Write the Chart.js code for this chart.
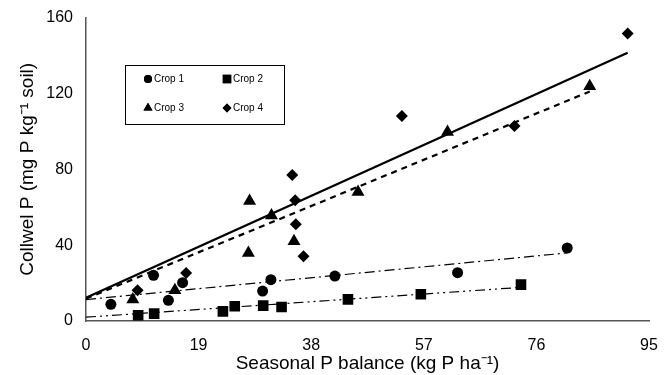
<!DOCTYPE html>
<html>
<head>
<meta charset="utf-8">
<script src="https://cdn.jsdelivr.net/npm/chart.js@4"></script>
<style>
  html, body { margin: 0; padding: 0; background: #fff; }
  #wrap { width: 671px; height: 375px; }
</style>
</head>
<body>
<div id="wrap"><canvas id="pChart" width="671" height="375"></canvas></div>
<script>
// values
const crop1X = [4.2, 11.4, 13.9, 16.3, 29.8, 31.2, 42.0, 62.7, 81.2];
const crop1Y = [8.8, 24.1, 10.9, 20.2, 15.8, 21.8, 23.7, 25.5, 38.5];
const crop2X = [8.8, 11.5, 23.1, 25.1, 29.9, 33.0, 44.2, 56.5, 73.4];
const crop2Y = [3.0, 3.9, 5.1, 7.8, 8.1, 7.4, 11.4, 14.1, 19.2];
const crop3X = [7.9, 15.0, 27.6, 27.4, 31.3, 35.1, 45.9, 61.0, 85.0];
const crop3Y = [11.3, 16.2, 63.3, 35.9, 55.6, 42.0, 68.0, 99.7, 123.8];
const crop4X = [8.7, 16.9, 35.3, 35.4, 36.7, 34.8, 53.3, 72.3, 91.4];
const crop4Y = [16.2, 25.3, 63.7, 51.0, 34.1, 77.0, 108.1, 102.8, 151.6];

// fitted lines, end points
const allFitX = [0, 91.4];
const allFitY = [12.3, 141.5];
const crop3FitX = [0, 85.0];
const crop3FitY = [11.8, 121.0];
const crop1FitX = [0, 81.2];
const crop1FitY = [11.3, 35.9];
const crop2FitX = [0, 72.7];
const crop2FitY = [2.0, 17.6];

const xTicks = [0, 19, 38, 57, 76, 95];
const yTicks = [0, 40, 80, 120, 160];

const legendNames = ["Crop 1", "Crop 2", "Crop 3", "Crop 4"];
const legendStyles = ["circle", "rect", "triangle", "rectRot"];

const FONT = "'Liberation Sans', Arial, sans-serif";

const toPoints = (xs, ys) => xs.map((x, i) => ({ x, y: ys[i] }));

function scatterSet(label, xs, ys, style, radius) {
  return {
    label,
    data: toPoints(xs, ys),
    showLine: false,
    pointStyle: style,
    pointRadius: radius,
    pointBackgroundColor: "#000",
    pointBorderColor: "#000",
    pointBorderWidth: 0,
  };
}

function lineSet(xs, ys, width, dash) {
  return {
    label: "fit",
    data: toPoints(xs, ys),
    showLine: true,
    borderColor: "#000",
    borderWidth: width,
    borderDash: dash,
    pointRadius: 0,
    fill: false,
  };
}

// small boxed legend inside the plot
const boxLegend = {
  id: "boxLegend",
  afterDraw(chart) {
    const ctx = chart.ctx;
    ctx.save();
    ctx.strokeStyle = "#000";
    ctx.lineWidth = 1;
    ctx.strokeRect(125.5, 65.5, 159, 59);
    const spots = [[148, 79], [227, 79], [148, 108], [227, 108]];
    const sizes = [5, 7.5, 6.5, 5.5];
    ctx.font = "10px " + FONT;
    ctx.textBaseline = "middle";
    legendNames.forEach((name, i) => {
      const [x, y] = spots[i];
      ctx.fillStyle = "#000";
      Chart.helpers.drawPoint(ctx, { pointStyle: legendStyles[i], radius: sizes[i] * 0.8, rotation: 0, borderWidth: 0 }, x, y);
      ctx.fill();
      ctx.fillText(name, x + 6, y);
    });
    ctx.restore();
  },
};

new Chart(document.getElementById("pChart").getContext("2d"), {
  type: "scatter",
  data: {
    datasets: [
      lineSet(allFitX, allFitY, 2.2, []),
      lineSet(crop3FitX, crop3FitY, 2.2, [6, 5]),
      lineSet(crop1FitX, crop1FitY, 1.2, [10, 4, 2, 4]),
      lineSet(crop2FitX, crop2FitY, 1.2, [10, 4, 2, 4, 2, 4]),
      scatterSet("Crop 1", crop1X, crop1Y, "circle", 5.5),
      scatterSet("Crop 2", crop2X, crop2Y, "rect", 7.5),
      scatterSet("Crop 3", crop3X, crop3Y, "triangle", 7.5),
      scatterSet("Crop 4", crop4X, crop4Y, "rectRot", 6),
    ],
  },
  options: {
    responsive: false,
    animation: false,
    layout: { padding: { top: 17, right: 22, left: 0, bottom: 0 } },
    plugins: {
      legend: { display: false },
      tooltip: { enabled: false },
    },
    scales: {
      x: {
        type: "linear",
        min: 0,
        max: 95,
        afterBuildTicks: (scale) => { scale.ticks = xTicks.map((v) => ({ value: v })); },
        afterFit: (scale) => { scale.height = 54; },
        grid: { display: false, drawTicks: true, tickLength: 5, color: "#555" },
        border: { color: "#555", width: 1.5 },
        ticks: {
          color: "#000",
          padding: 10,
          font: { family: FONT, size: 16 },
        },
        title: {
          display: true,
          text: "Seasonal P balance (kg P ha⁻¹)",
          color: "#000",
          padding: { top: 0, bottom: 0 },
          font: { family: FONT, size: 19 },
        },
      },
      y: {
        type: "linear",
        min: 0,
        max: 160,
        afterBuildTicks: (scale) => { scale.ticks = yTicks.map((v) => ({ value: v })); },
        afterFit: (scale) => { scale.width = 86; },
        grid: { display: false, drawTicks: true, tickLength: 5, color: "#555" },
        border: { color: "#555", width: 1.5 },
        ticks: {
          color: "#000",
          padding: 8,
          font: { family: FONT, size: 16 },
        },
        title: {
          display: true,
          text: "Collwel P (mg P kg⁻¹ soil)",
          color: "#000",
          padding: { top: 16, bottom: 0 },
          font: { family: FONT, size: 19 },
        },
      },
    },
  },
  plugins: [boxLegend],
});
</script>
</body>
</html>
